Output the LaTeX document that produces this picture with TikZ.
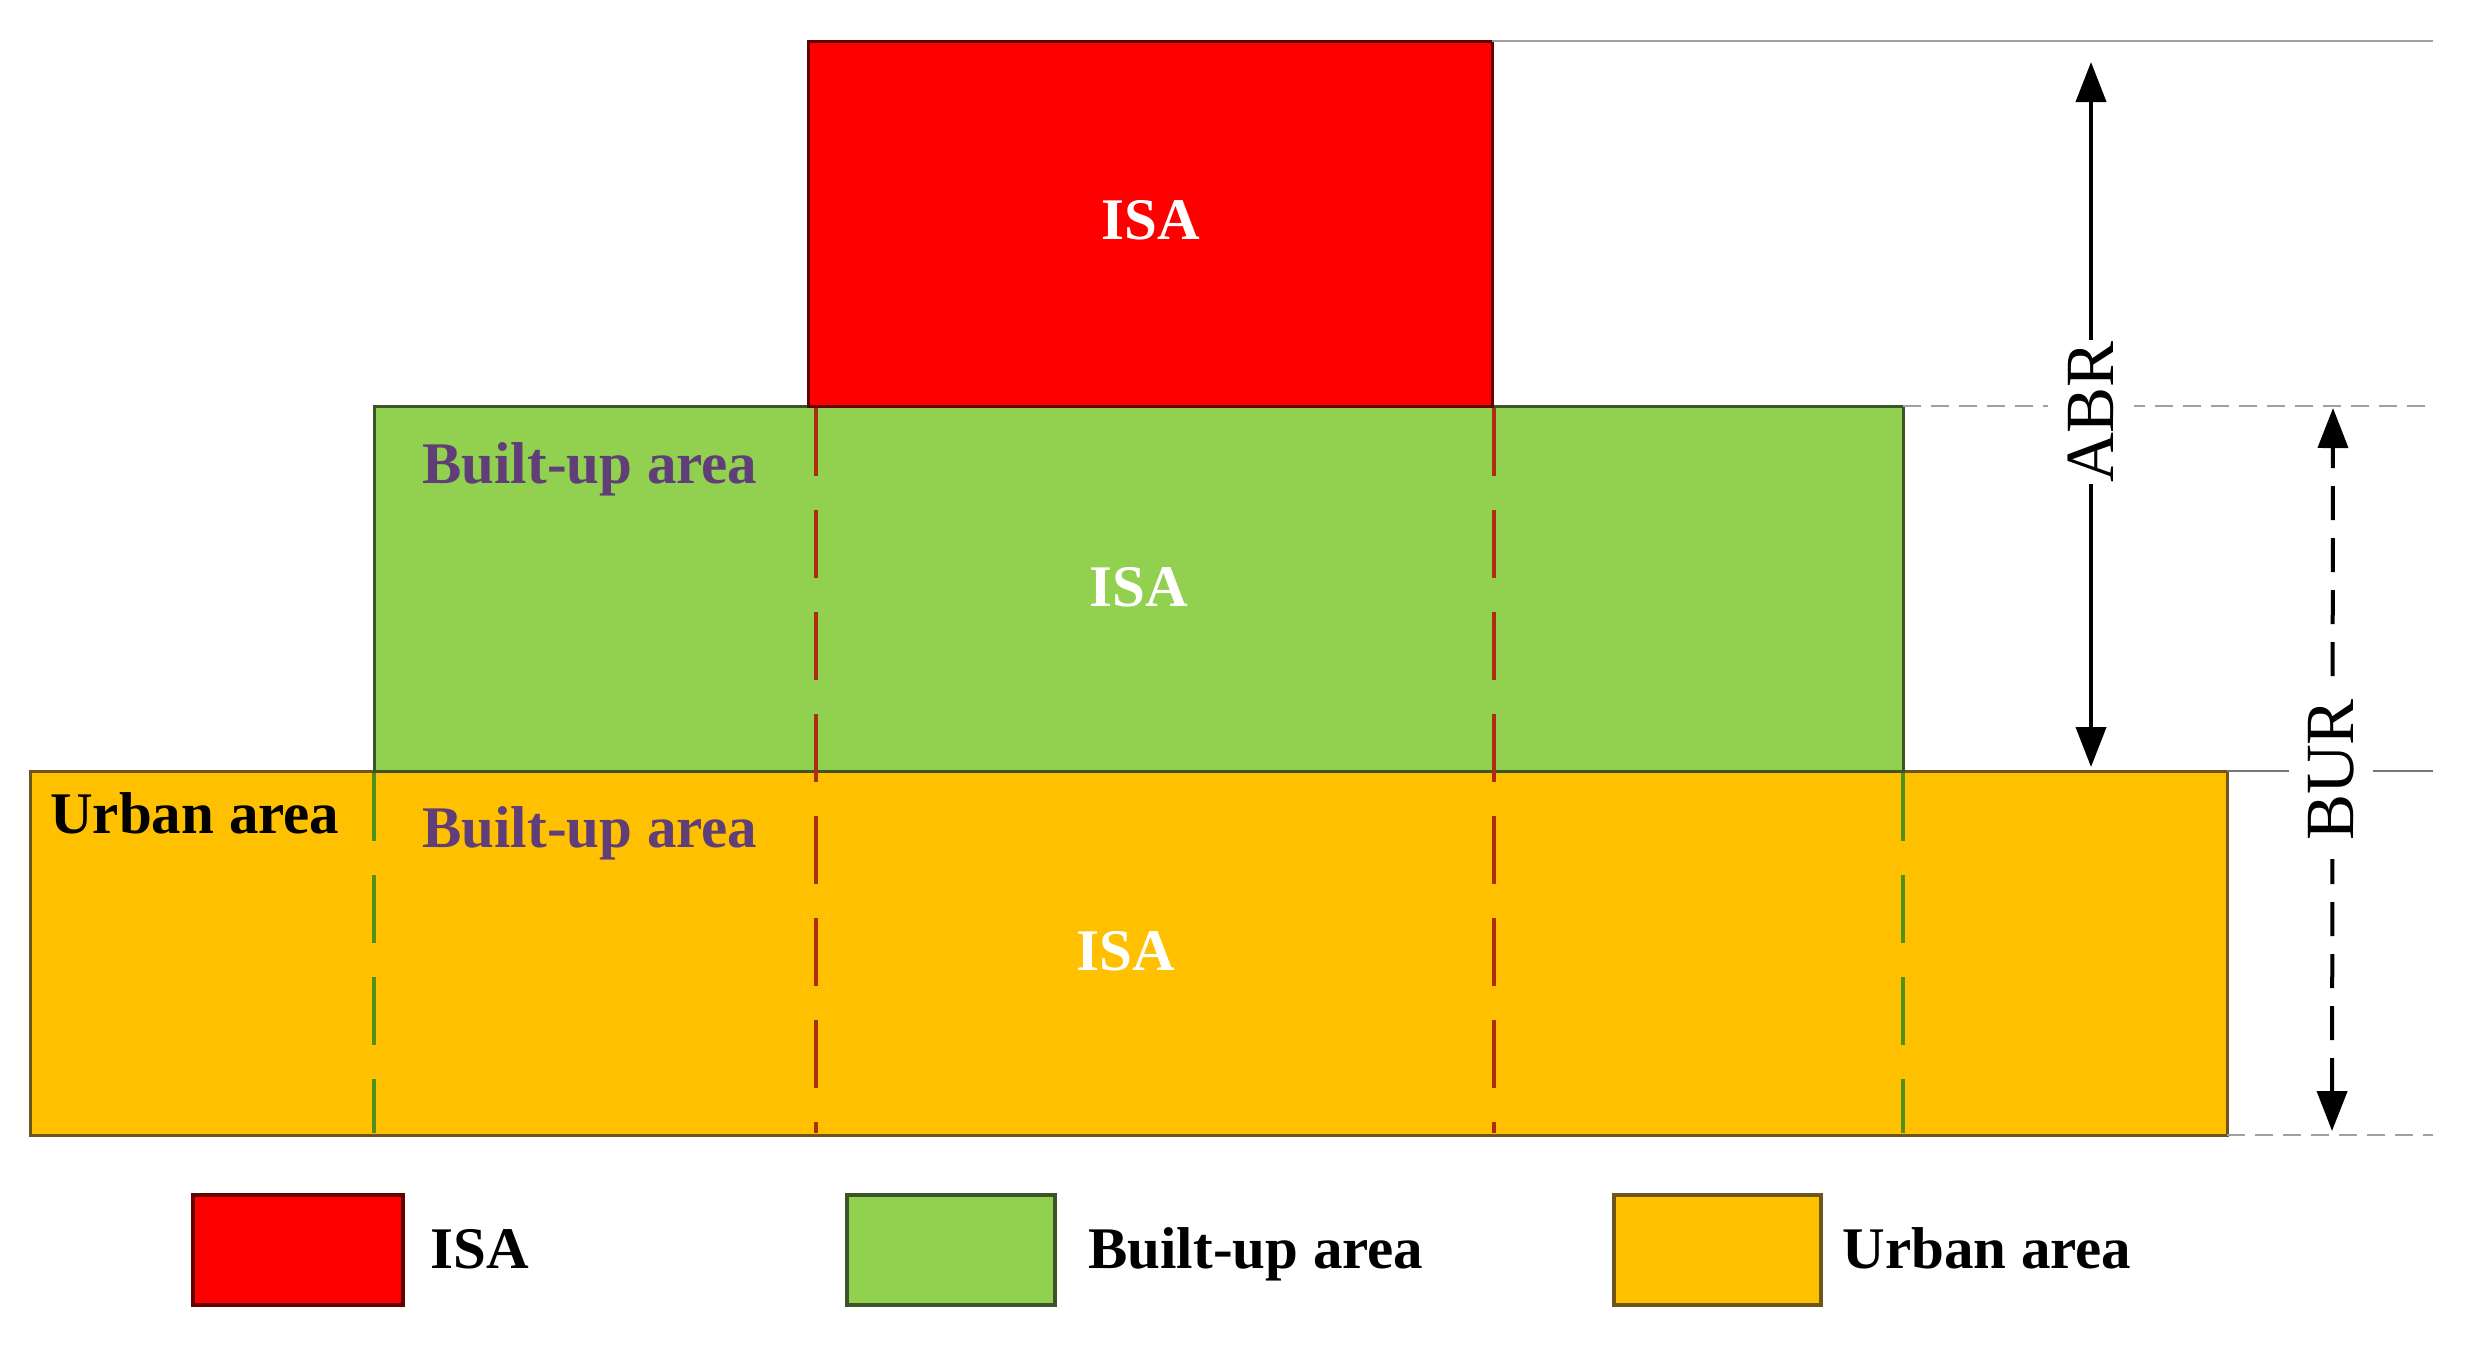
\documentclass[tikz,border=0pt]{standalone}
\usepackage{fontspec}
\setmainfont{Liberation Serif}
\usetikzlibrary{arrows.meta}
\definecolor{isared}{RGB}{255,0,0}
\definecolor{isaredline}{RGB}{100,0,0}
\definecolor{bugreen}{RGB}{146,208,80}
\definecolor{bugreenline}{RGB}{60,85,40}
\definecolor{uaorange}{RGB}{255,192,0}
\definecolor{uaorangeline}{RGB}{110,85,25}
\definecolor{bupurple}{RGB}{96,62,120}
\definecolor{guide}{RGB}{160,160,160}
\definecolor{guidedark}{RGB}{120,120,120}
\definecolor{reddash}{RGB}{175,45,15}
\definecolor{greendash}{RGB}{80,145,30}
\begin{document}
\begin{tikzpicture}[x=0.5pt,y=-0.5pt,
  redbox/.style={fill=isared,draw=isaredline,line width=1.5pt},
  greenbox/.style={fill=bugreen,draw=bugreenline,line width=1.5pt},
  orangebox/.style={fill=uaorange,draw=uaorangeline,line width=1.5pt},
  reddashed/.style={draw=reddash,line width=1.6pt,dash pattern=on 34pt off 17pt},
  greendashed/.style={draw=greendash,line width=1.6pt,dash pattern=on 34pt off 17pt},
  guidesolid/.style={draw=guide,line width=1.2pt},
  guidethin/.style={draw=guidedark,line width=0.8pt},
  guidedash/.style={draw=guide,line width=1.2pt,dash pattern=on 9pt off 5pt},
  dimarrow/.style={line width=2pt,{Triangle[length=20pt,width=15pt]}-{Triangle[length=20pt,width=15pt]}},
  dimdashed/.style={dimarrow,dash pattern=on 17pt off 9pt},
  isatext/.style={text=white,font=\fontsize{29.5}{35}\selectfont\bfseries,inner sep=0pt},
  areatext/.style={font=\fontsize{29.5}{35}\selectfont\bfseries,inner sep=0pt,anchor=base west},
  dimlabel/.style={fill=white,font=\fontsize{34.5}{40}\selectfont,rotate=90}
]
\useasboundingbox (0,0) rectangle (2466,1346);
% main stacked areas
\draw[orangebox] (30,771) rectangle (2227,1135);
\draw[greenbox] (374,406) rectangle (1903,771);
\draw[redbox] (808,41) rectangle (1492,406);
% projections of boundaries
\draw[reddashed] (816,408) -- (816,1133);
\draw[reddashed] (1494,408) -- (1494,1133);
\draw[greendashed] (374,773) -- (374,1133);
\draw[greendashed] (1903,773) -- (1903,1133);
% guide lines
\draw[guidesolid] (1492,41) -- (2433,41);
\draw[guidedash] (1903,406) -- (2433,406);
\draw[guidethin] (2227,771) -- (2433,771);
\draw[guidedash] (2227,1135) -- (2433,1135);
% dimension arrows
\coordinate (abrTop) at (2091,62);
\coordinate (abrBot) at (2091,767);
\coordinate (burTop) at (2333,408);
\coordinate (burBot) at (2332,1131);
\draw[dimarrow] (abrBot) -- (abrTop);
\draw[dimdashed] (burBot) -- (burTop);
\node[dimlabel,inner xsep=0.5pt,inner ysep=10pt] (abr) at (2091,412) {ABR};
\node[dimlabel,inner xsep=9pt,inner ysep=9.5pt] (bur) at (2331,770) {BUR};
% texts inside
\node[isatext] (isa1) at (1151,220) {ISA};
\node[isatext] (isa2) at (1139,587) {ISA};
\node[isatext] (isa3) at (1126,951) {ISA};
\node[areatext,text=bupurple] (bu1) at (422,483) {Built-up area};
\node[areatext,text=bupurple] (bu2) at (422,847) {Built-up area};
\node[areatext,text=black] (ua1) at (50,833) {Urban area};
% legend
\draw[redbox,line width=1.8pt] (193,1195) rectangle (403,1305);
\draw[greenbox,line width=1.8pt] (847,1195) rectangle (1055,1305);
\draw[orangebox,line width=1.8pt] (1614,1195) rectangle (1821,1305);
\node[areatext] (lg1) at (430,1268) {ISA};
\node[areatext] (lg2) at (1088,1268) {Built-up area};
\node[areatext] (lg3) at (1842,1268) {Urban area};
\end{tikzpicture}
\end{document}
